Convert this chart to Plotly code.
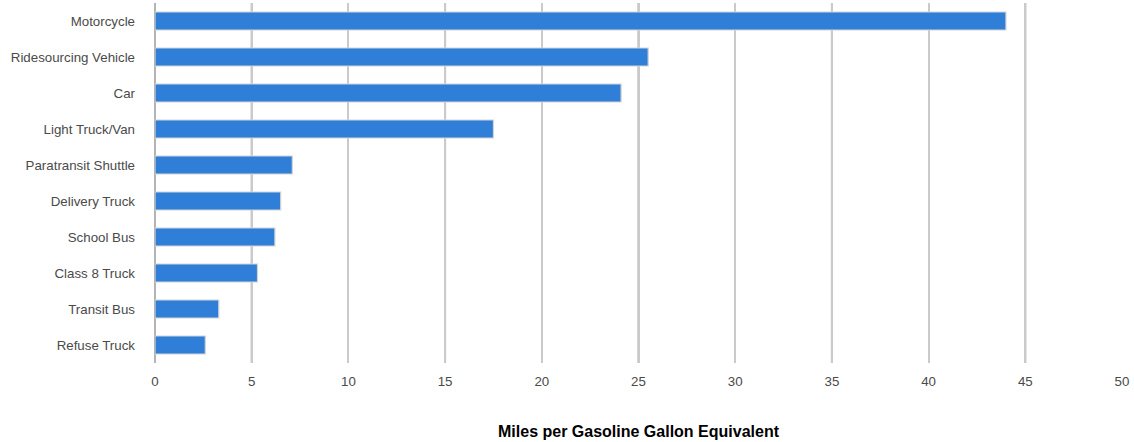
import plotly.graph_objects as go

# Fuel economy by vehicle type
vehicles = [
    "Motorcycle",
    "Ridesourcing Vehicle",
    "Car",
    "Light Truck/Van",
    "Paratransit Shuttle",
    "Delivery Truck",
    "School Bus",
    "Class 8 Truck",
    "Transit Bus",
    "Refuse Truck",
]
mpgge = [44.0, 25.5, 24.1, 17.5, 7.1, 6.5, 6.2, 5.3, 3.3, 2.6]

x_max = 50
x_step = 5
tick_values = list(range(0, x_max + 1, x_step))

fig = go.Figure(
    go.Bar(
        x=mpgge,
        y=vehicles,
        orientation="h",
        marker=dict(color="#2f7ed8", line=dict(color="#d4d4d4", width=1.2)),
        hoverinfo="x+y",
    )
)

# Darker gridlines on the odd multiples of five
for v in tick_values:
    if v % 10 == 5:
        fig.add_shape(
            type="line", xref="x", yref="paper",
            x0=v, x1=v, y0=0, y1=1,
            line=dict(color="#a9a9a9", width=2),
            layer="below",
        )

fig.update_layout(
    width=1134,
    height=442,
    margin=dict(l=155, r=12, t=3, b=79),
    paper_bgcolor="white",
    plot_bgcolor="white",
    bargap=0.5,
    showlegend=False,
    font=dict(family="Liberation Sans, Arial, sans-serif", size=13, color="#444444"),
    xaxis=dict(
        range=[0, x_max],
        tickvals=tick_values,
        showgrid=True,
        gridcolor="#cacaca",
        gridwidth=2,
        zeroline=True,
        zerolinecolor="#b4b4b4",
        zerolinewidth=2,
        showline=False,
        ticks="",
        ticklabelstandoff=9,
        tickfont=dict(size=13.3, color="#4a4a4a"),
        title=dict(
            text="Miles per Gasoline Gallon Equivalent",
            font=dict(size=16, color="#000000", family="Liberation Sans, Arial, sans-serif", weight="bold"),
            standoff=37,
        ),
    ),
    yaxis=dict(
        categoryorder="array",
        categoryarray=vehicles[::-1],
        showgrid=False,
        zeroline=False,
        showline=False,
        ticks="",
        ticklabelstandoff=19,
        tickfont=dict(size=13.3, color="#4a4a4a"),
    ),
)

fig.write_html("out.html")
